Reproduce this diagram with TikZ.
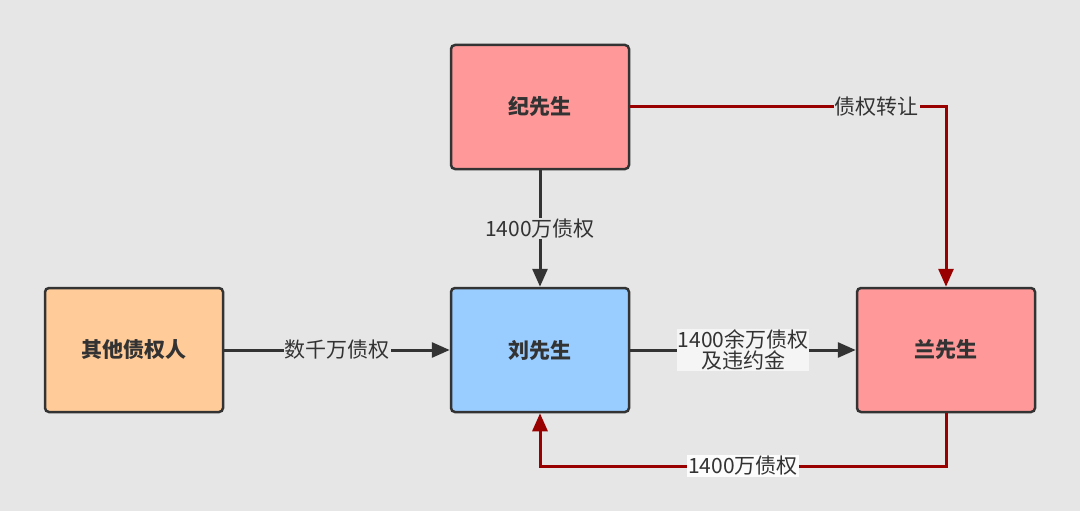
\documentclass[tikz,border=0pt]{standalone}
\usepackage{fontspec}
\setmainfont{Noto Sans CJK SC}
\usetikzlibrary{arrows.meta}
\definecolor{bg}{HTML}{E6E6E6}
\definecolor{pinkf}{HTML}{FF9999}
\definecolor{orangef}{HTML}{FFCC99}
\definecolor{bluef}{HTML}{99CCFF}
\definecolor{edge}{HTML}{333333}
\definecolor{dred}{HTML}{990000}
\begin{document}
\begin{tikzpicture}[x=1pt,y=-1pt,
  box/.style={draw=edge,line width=2.5pt,rounded corners=4pt,minimum width=178pt,minimum height=124pt,font=\fontsize{21}{24}\selectfont\bfseries,text=edge},
  conn/.style={line width=3pt,-{Triangle[length=18pt,width=15pt]}},
  lab/.style={fill=bg,inner sep=1pt,font=\fontsize{21}{24}\selectfont,text=edge,align=center}]
\fill[bg] (0,0) rectangle (1080,511);
\node[box,fill=pinkf] (ji) at (540,107) {纪先生};
\node[box,fill=orangef] (qt) at (134,350) {其他债权人};
\node[box,fill=bluef] (liu) at (540,350) {刘先生};
\node[box,fill=pinkf] (lan) at (946,350) {兰先生};
\coordinate (c1) at (946,107);
\coordinate (c2) at (946,466);
\coordinate (c3) at (540,466);
\draw[conn,edge] (ji) -- node[lab]{1400万债权} (liu);
\draw[conn,edge] (qt) -- node[lab]{数千万债权} (liu);
\draw[conn,edge] (liu) -- node[lab,fill=bg!40!white]{1400余万债权\\[-3pt]及违约金} (lan);
\draw[conn,dred] (ji.east) -- node[lab,pos=0.78]{债权转让} (c1) -- (lan.north);
\draw[conn,dred] (lan.south) -- (c2) -- node[lab,fill=white!90!bg]{1400万债权} (c3) -- (liu.south);
\end{tikzpicture}
\end{document}
